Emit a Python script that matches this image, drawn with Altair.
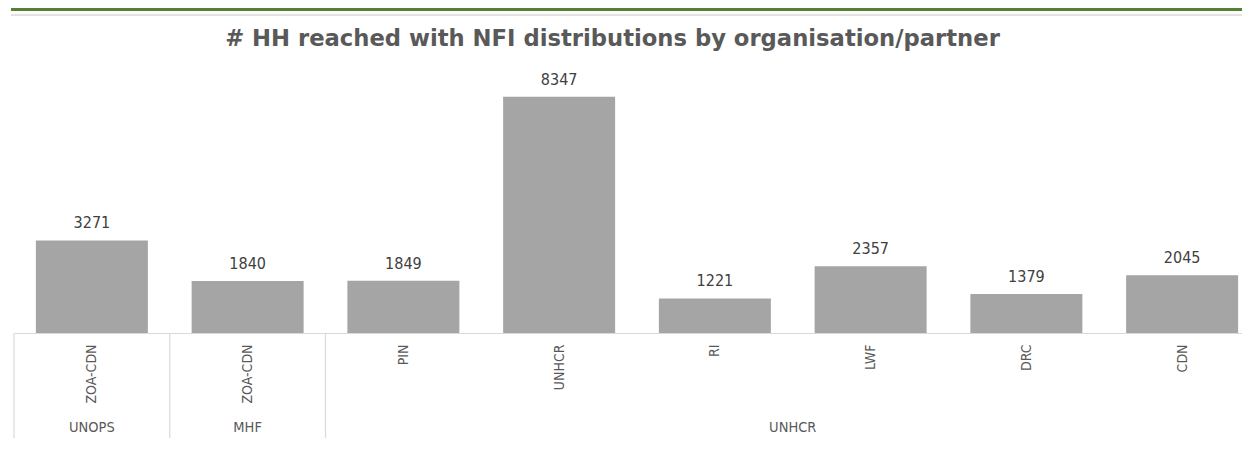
import altair as alt
import pandas as pd

# ---- data ----
partners = ["ZOA-CDN", "ZOA-CDN", "PIN", "UNHCR", "RI", "LWF", "DRC", "CDN"]
values = [3271, 1840, 1849, 8347, 1221, 2357, 1379, 2045]
groups = ["UNOPS", "MHF", "UNHCR"]
group_first = [0, 1, 2]
group_last = [0, 1, 7]

TITLE = "# HH reached with NFI distributions by organisation/partner"

df = pd.DataFrame({"idx": list(range(len(partners))), "partner": partners, "value": values})
gdf = pd.DataFrame({"group": groups, "first": group_first, "last": group_last})
tdf = pd.DataFrame({"title": [TITLE]})

W, H = 1228, 283
STEP = 155.75  # px per category; the last category runs past the visible edge
FONT = "DejaVu Sans Condensed"
label_expr = "[" + ",".join(f"'{p}'" for p in partners) + "][datum.value]"

xscale = alt.Scale(domain=[-0.5, -0.5 + W / STEP], nice=False, zero=False, padding=0)
xaxis = alt.Axis(
    title=None, values=list(range(len(partners))), labelExpr=label_expr,
    labelAngle=270, ticks=False, grid=False, labelPadding=11,
    labelFont=FONT, labelFontSize=14, labelColor="#595959",
    domainColor="#d9d9d9", domainWidth=1.2, labelLimit=200, labelFlush=False,
    labelOverlap=False,
)
yq = alt.Y("value:Q", scale=alt.Scale(domain=[0, 10000], nice=False, padding=0), axis=None)

base = alt.Chart(df)
bars = base.mark_bar(color="#a5a5a5", size=112).encode(
    x=alt.X("idx:Q", scale=xscale, axis=xaxis), y=yq
)
labels = base.mark_text(
    font=FONT, fontSize=16, color="#404040", baseline="alphabetic", dy=-12
).encode(x=alt.X("idx:Q", scale=xscale), y=yq, text="value:Q")

gbase = alt.Chart(gdf).transform_calculate(
    sep="datum.first - 0.5", mid="(datum.first + datum.last) / 2"
)
seps = gbase.mark_rule(color="#d9d9d9", strokeWidth=1.2).encode(
    x=alt.X("sep:Q", scale=xscale), y=alt.value(H), y2=alt.value(H + 105)
)
glabels = gbase.mark_text(
    font=FONT, fontSize=14.5, color="#595959", baseline="middle"
).encode(x=alt.X("mid:Q", scale=xscale), y=alt.value(H + 95), text="group:N")

green = alt.Chart(tdf).mark_rule(color="#548235", strokeWidth=3).encode(
    x=alt.value(-3), x2=alt.value(W), y=alt.value(-40.5)
)
grayline = alt.Chart(tdf).mark_rule(color="#d9d9d9", strokeWidth=1.5).encode(
    x=alt.value(-3), x2=alt.value(W), y=alt.value(-35)
)
title = alt.Chart(tdf).mark_text(
    font="DejaVu Sans", fontSize=22.7, fontWeight="bold", color="#595959", baseline="alphabetic"
).encode(x=alt.value(598.5), y=alt.value(-4), text="title:N")

chart = (
    alt.layer(bars, labels, seps, glabels, green, grayline, title)
    .properties(
        width=W,
        height=H,
        autosize=alt.AutoSizeParams(type="none"),
        padding={"left": 6, "top": 42, "right": 0, "bottom": 112},
    )
    .configure_view(stroke=None)
)

chart.save("out.html", embed_options={"renderer": "svg", "actions": False})
